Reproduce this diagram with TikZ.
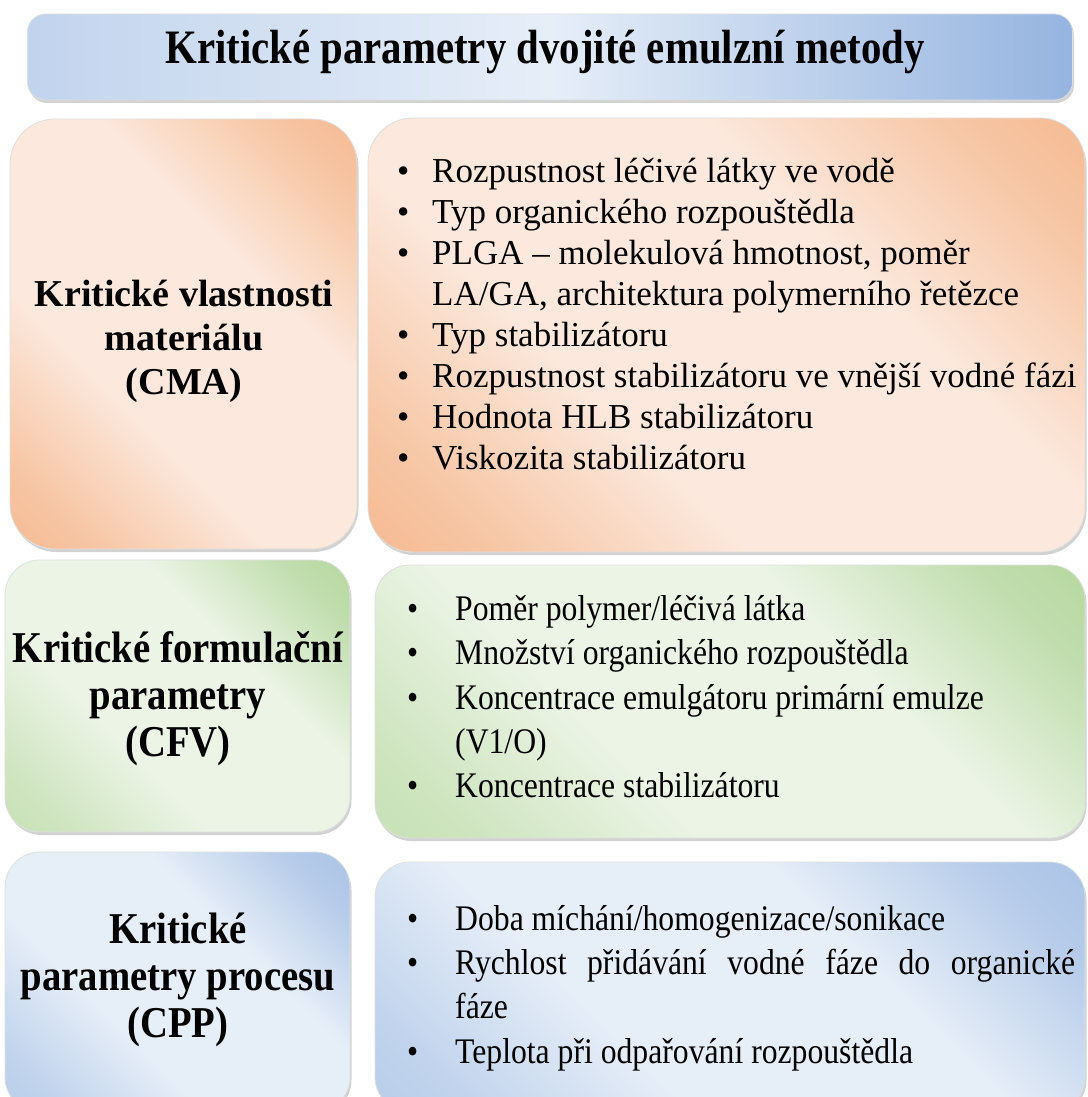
\documentclass[tikz,border=0pt]{standalone}
\usepackage{fontspec}
\setmainfont{Liberation Serif}
\newfontfamily\condserif[FakeStretch=0.88]{Liberation Serif}
\newfontfamily\titleserif[FakeStretch=0.85]{Liberation Serif}
\usetikzlibrary{shadows}
\definecolor{orD}{HTML}{F2A874}
\definecolor{orL}{HTML}{FCE8DC}
\definecolor{grD}{HTML}{A4CE88}
\definecolor{grL}{HTML}{EBF4E5}
\definecolor{blD}{HTML}{95B4E0}
\definecolor{blL}{HTML}{E6EEF8}
\pgfdeclareverticalshading{orsh}{100bp}{color(0bp)=(orD); color(22bp)=(orD!55!orL); color(38bp)=(orL); color(62bp)=(orL); color(78bp)=(orD!55!orL); color(100bp)=(orD)}
\pgfdeclareverticalshading{grsh}{100bp}{color(0bp)=(grD!70!grL); color(22bp)=(grD!40!grL); color(38bp)=(grL); color(62bp)=(grL); color(78bp)=(grD!60!grL); color(100bp)=(grD)}
\pgfdeclareverticalshading{blsh}{100bp}{color(0bp)=(blD!80!blL); color(22bp)=(blD!45!blL); color(38bp)=(blL); color(62bp)=(blL); color(78bp)=(blD!60!blL); color(100bp)=(blD)}
\newcommand\mybulA{\makebox[35pt][l]{•}}
\newcommand\mybulB{\makebox[48pt][l]{•}}
\tikzset{
  box/.style={rectangle, draw=white!75!gray, line width=0.8pt, inner sep=0pt,
    drop shadow={shadow xshift=1.5pt, shadow yshift=-3pt, opacity=0.35}},
  titlebox/.style={box, rounded corners=18pt, left color=blL!55!blD, right color=blD, middle color=blL},
  orbox/.style={box, rounded corners=45pt, shading=orsh, shading angle=-45},
  grbox/.style={box, rounded corners=35pt, shading=grsh, shading angle=-45},
  blbox/.style={box, rounded corners=35pt, shading=blsh, shading angle=-45},
  lbl/.style={align=center, inner sep=0pt},
  liA/.style={anchor=base west, inner sep=0pt, font=\fontsize{35}{41}\selectfont},
  liB/.style={anchor=base west, inner sep=0pt, font=\condserif\fontsize{36}{44}\selectfont},
}
\begin{document}
\begin{tikzpicture}[x=1pt,y=-1pt]
\useasboundingbox (0,0) rectangle (1087,1097);
\fill[white] (0,0) rectangle (1087,1097);
% title
\node[titlebox, minimum width=1045pt, minimum height=86pt] (title) at (550,57) {};
\node[lbl, font=\titleserif\bfseries\fontsize{48}{52}\selectfont] (titletext) at (545,52) {Kritické parametry dvojité emulzní metody};
% CMA
\node[orbox, minimum width=347pt, minimum height=430pt] (cmaL) at (183.5,334) {};
\node[orbox, minimum width=717pt, minimum height=434pt] (cmaR) at (726.5,335) {};
\node[lbl, font=\bfseries\fontsize{38}{44}\selectfont] (cmaT) at (184,341) {Kritické vlastnosti\\materiálu\\(CMA)};
\node[liA] (a1) at (397,182) {\mybulA Rozpustnost léčivé látky ve vodě};
\node[liA] (a2) at (397,223) {\mybulA Typ organického rozpouštědla};
\node[liA] (a3) at (397,264) {\mybulA PLGA – molekulová hmotnost, poměr};
\node[liA] (a3b) at (432,305) {LA/GA, architektura polymerního řetězce};
\node[liA] (a4) at (397,346) {\mybulA Typ stabilizátoru};
\node[liA] (a5) at (397,387) {\mybulA Rozpustnost stabilizátoru ve vnější vodné fázi};
\node[liA] (a6) at (397,428) {\mybulA Hodnota HLB stabilizátoru};
\node[liA] (a7) at (397,469) {\mybulA Viskozita stabilizátoru};
% CFV
\node[grbox, minimum width=345pt, minimum height=272pt] (cfvL) at (177.5,696) {};
\node[grbox, minimum width=710pt, minimum height=273pt] (cfvR) at (730,701.5) {};
\node[lbl, font=\condserif\bfseries\fontsize{44}{47}\selectfont] (cfvT) at (178,699) {Kritické formulační\\parametry\\(CFV)};
\node[liB] (b1) at (407,620) {\mybulB Poměr polymer/léčivá látka};
\node[liB] (b2) at (407,664) {\mybulB Množství organického rozpouštědla};
\node[liB] (b3) at (407,709) {\mybulB Koncentrace emulgátoru primární emulze};
\node[liB] (b3b) at (455,753) {(V1/O)};
\node[liB] (b4) at (407,797) {\mybulB Koncentrace stabilizátoru};
% CPP
\node[blbox, minimum width=345pt, minimum height=260pt] (cppL) at (177.5,982) {};
\node[blbox, minimum width=710pt, minimum height=250pt] (cppR) at (730,987) {};
\node[lbl, font=\condserif\bfseries\fontsize{44}{47}\selectfont] (cppT) at (178,980) {Kritické\\parametry procesu\\(CPP)};
\node[liB] (c1) at (407,930) {\mybulB Doba míchání/homogenizace/sonikace};
\node[liB] (c2) at (407,974) {\mybulB \makebox[620pt][s]{Rychlost přidávání vodné fáze do organické}};
\node[liB] (c2b) at (455,1018) {fáze};
\node[liB] (c3) at (407,1063) {\mybulB Teplota při odpařování rozpouštědla};
\end{tikzpicture}
\end{document}
